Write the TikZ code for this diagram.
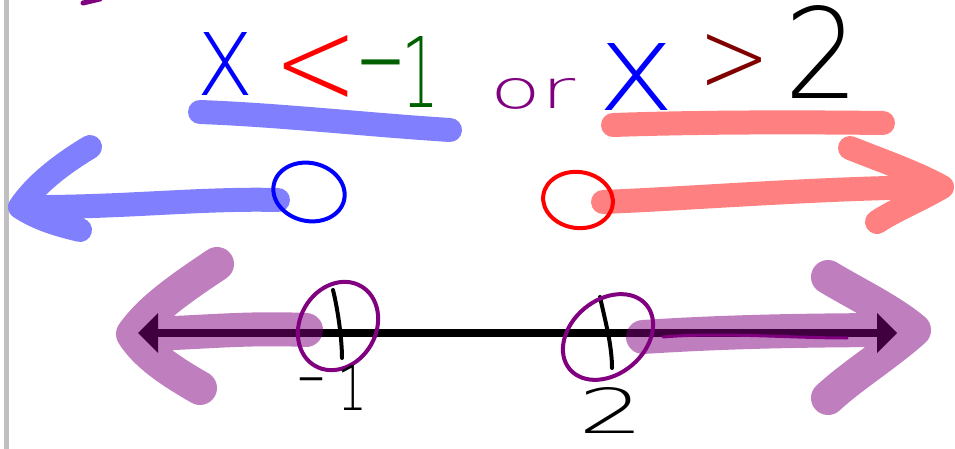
\documentclass[tikz,border=0pt]{standalone}
\usepackage{fontspec}
\setmainfont{DejaVu Sans}
\newfontfamily\hand{DejaVu Sans ExtraLight}
\usetikzlibrary{arrows.meta}
\definecolor{hlblue}{RGB}{128,128,255}
\definecolor{hlred}{RGB}{255,128,128}
\definecolor{pur}{RGB}{128,0,128}
\definecolor{dgreen}{RGB}{0,96,0}
\definecolor{dred}{RGB}{128,0,0}
\definecolor{barg}{RGB}{192,192,192}
\begin{document}
\begin{tikzpicture}[x=1pt,y=-1pt,
  hl/.style={line width=24pt,line cap=round,line join=round},
  phl/.style={line width=34pt,line cap=round,line join=round,draw=pur,opacity=0.5},
  pen/.style={line width=4pt,line cap=round,line join=round},
  glyph/.style={inner sep=0pt,outer sep=0pt,font=\hand},
  mglyph/.style={inner sep=0pt,outer sep=0pt,anchor=north}]
\useasboundingbox (0,0) rectangle (955,449);
% left margin bar and stray mark
\fill[barg] (4,0) rectangle (9,449);
\draw[pur,line width=5pt,line cap=round] (83,3) -- (100,-1);
% underline highlights
\draw[hl,hlblue] (200,112) .. controls (280,115) and (370,125) .. (450,130);
\draw[hl,hlred] (613,125) .. controls (700,122) and (800,122) .. (883,123);
% top inequality text
\node[glyph,text=blue] (x1) at (225,64) {\resizebox{58pt}{63pt}{x}};
\node[glyph,text=red] (lt) at (316,70) {\resizebox{85pt}{70pt}{<}};
\node[mglyph,text=dgreen] (m1) at (381,60) {\resizebox{51pt}{!}{−}};
\node[glyph,text=dgreen] (one1) at (421,72) {\resizebox{38pt}{71pt}{1}};
\node[glyph,text=pur] (or) at (533,94) {\resizebox{85pt}{30pt}{or}};
\node[glyph,text=blue] (x2) at (637,77) {\resizebox{78pt}{67pt}{x}};
\node[glyph,text=dred] (gt) at (735,63) {\resizebox{72pt}{58pt}{>}};
\node[glyph,text=black] (two1) at (822,52) {\resizebox{75pt}{93pt}{2}};
% blue and red solution arrows
\draw[hl,hlblue] (278,200) .. controls (200,198) and (120,208) .. (20,207)
  (90,147) .. controls (60,165) and (35,185) .. (20,207) .. controls (40,220) and (60,225) .. (80,230);
\draw[hl,hlred] (603,202) .. controls (700,198) and (820,188) .. (942,187)
  (850,148) .. controls (880,160) and (915,172) .. (942,187) .. controls (920,200) and (895,210) .. (877,222);
% open circles
\draw[pen,blue,rotate around={-13:(309,192)}] (309,192) ellipse [x radius=36, y radius=29];
\draw[pen,red,rotate around={-8:(578,200)}] (578,200) ellipse [x radius=35, y radius=28];
% number line
\coordinate (L) at (138,333);
\coordinate (R) at (897,333);
\draw[line width=8pt,{Triangle[length=20pt,width=40pt,line width=0pt]}-{Triangle[length=20pt,width=40pt,line width=0pt]}] (L) -- (R);
\draw[pen,black] (333,290) .. controls (338,310) and (342,340) .. (342,358);
\draw[pen,black] (600,297) .. controls (605,320) and (612,345) .. (612,368);
\draw[pen,pur,rotate around={60:(338,326)}] (338,326) ellipse [x radius=46, y radius=38];
\draw[pen,pur,rotate around={40:(608,337)}] (608,337) ellipse [x radius=50, y radius=37];
% purple highlighted rays
\draw[phl] (306,330) .. controls (240,327) and (190,334) .. (133,334)
  (217,264) .. controls (178,290) and (150,310) .. (133,334) .. controls (146,355) and (172,372) .. (200,388);
\draw[phl] (643,337) .. controls (720,332) and (800,330) .. (914,330)
  (828,277) .. controls (858,295) and (890,310) .. (914,330) .. controls (886,355) and (853,375) .. (828,398);
\draw[line width=3pt,pur,line cap=round] (663,337) .. controls (720,332) and (790,338) .. (847,338);
% bottom labels
\node[mglyph,text=black] (m2) at (311,378) {\resizebox{30pt}{!}{−}};
\node[glyph,text=black] (one2) at (352,388) {\resizebox{30pt}{45pt}{1}};
\node[glyph,text=black] (two2) at (612,410) {\resizebox{66pt}{46pt}{2}};
\end{tikzpicture}
\end{document}
